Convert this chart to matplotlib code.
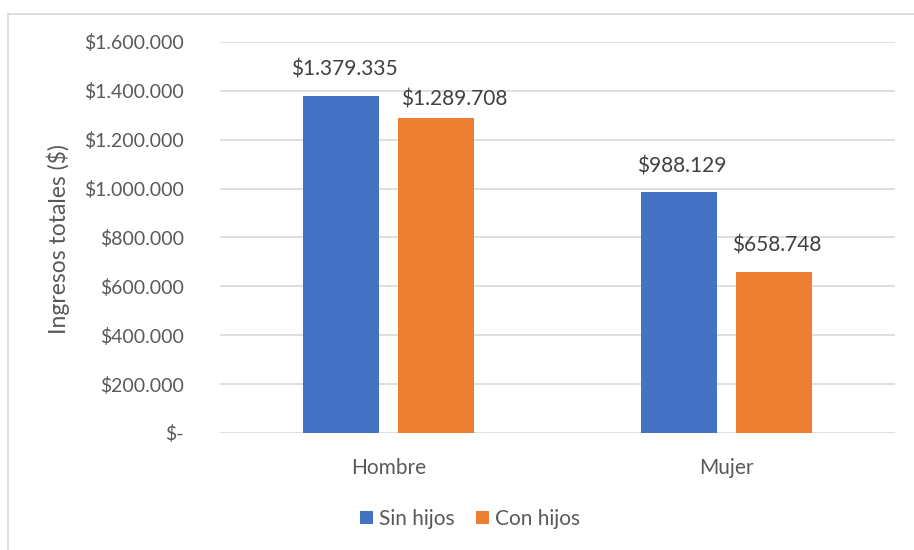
import matplotlib as ml
ml.use('Agg')
import numpy as np
import matplotlib.pyplot as plt
from matplotlib.patches import Rectangle

plt.rcParams['font.family'] = ['Lato', 'DejaVu Sans']

# Ingresos totales por sexo y tenencia de hijos
categorias = ['Hombre', 'Mujer']
series = ['Sin hijos', 'Con hijos']
sin_hijos = [1379335, 988129]
con_hijos = [1289708, 658748]
yticks = [0, 200000, 400000, 600000, 800000, 1000000, 1200000, 1400000, 1600000]

colores = ['#4472C4', '#ED7D31']
gris = '#595959'


def fmt_peso(v):
    if v == 0:
        return '$-'
    return '$' + '{:,.0f}'.format(v).replace(',', '.')


fig = plt.figure(figsize=(9.14, 5.5), dpi=100)

# chart frame
fig.patches.append(Rectangle((8 / 914, -0.05), 1.2, 1 - 14 / 550 + 0.05,
                             transform=fig.transFigure, fill=False,
                             edgecolor='#D9D9D9', linewidth=1.2))

ax = fig.add_axes([220 / 914, 1 - 433 / 550, 675 / 914, 391 / 550])

x = np.arange(len(categorias))
ancho = 0.225
desp = 0.141

# label offsets (dx, dy) from bar tops, in points; [categoria][serie]
offsets = [[(2, 19), (13, 13.5)], [(2, 18), (2, 19)]]

for i, (vals, col) in enumerate(zip([sin_hijos, con_hijos], colores)):
    pos = x + (2 * i - 1) * desp
    ax.bar(pos, vals, width=ancho, color=col, label=series[i], zorder=3)
    for j, (p, v) in enumerate(zip(pos, vals)):
        ax.annotate(fmt_peso(v), (p, v), xytext=offsets[j][i],
                    textcoords='offset points', ha='center', va='center',
                    fontsize=15, color='#404040')

ax.set_xlim(-0.5, 1.5)
ax.set_ylim(0, 1600000)
ax.set_yticks(yticks)
ax.set_yticklabels([fmt_peso(v) for v in yticks], fontsize=14, color=gris)
ax.set_xticks(x)
ax.set_xticklabels(categorias, fontsize=15, color=gris)
ax.tick_params(axis='both', length=0)
ax.tick_params(axis='y', pad=26)
ax.tick_params(axis='x', pad=18)

ax.grid(axis='y', color='#D9D9D9', linewidth=1.2, zorder=0)
for s in ax.spines.values():
    s.set_visible(False)

fig.text(58 / 914, 1 - 239 / 550, 'Ingresos totales ($)', rotation=90,
         ha='center', va='center', fontsize=16.5, color=gris)

fig.legend(loc='center', bbox_to_anchor=(470 / 914, 1 - 519 / 550), ncol=2,
           frameon=False, fontsize=15, handlelength=0.62, handleheight=0.62,
           handletextpad=0.3, columnspacing=1.0, labelcolor=gris)

fig.savefig('out.png', dpi=100)
